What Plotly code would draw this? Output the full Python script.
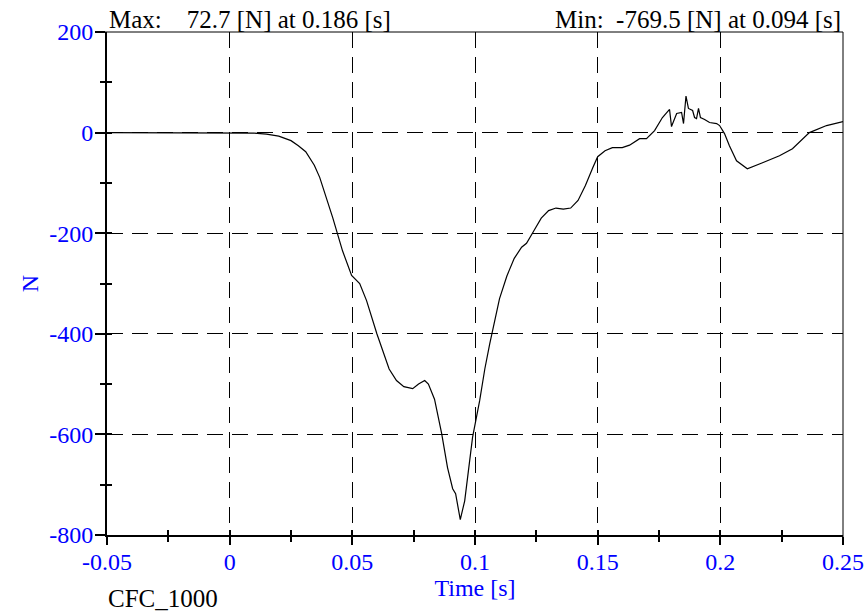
import plotly.graph_objects as go

time_s = [-0.05, 0.0, 0.005, 0.01, 0.015, 0.02, 0.025, 0.028, 0.031, 0.0345, 0.0367,
          0.042, 0.046, 0.0497, 0.053, 0.0558, 0.060, 0.0623, 0.065, 0.068, 0.071,
          0.0746, 0.077, 0.0795, 0.081, 0.0835, 0.0864, 0.0888, 0.0909, 0.0921,
          0.094, 0.0958, 0.099, 0.1019, 0.104, 0.106, 0.108, 0.110, 0.113, 0.116,
          0.119, 0.121, 0.124, 0.127, 0.130, 0.133, 0.136, 0.139, 0.142, 0.145,
          0.148, 0.150, 0.153, 0.156, 0.160, 0.163, 0.1671, 0.1699, 0.1732, 0.1764,
          0.1793, 0.1801, 0.1822, 0.1842, 0.1850, 0.186, 0.1870, 0.1887, 0.1895,
          0.1903, 0.1911, 0.1919, 0.1936, 0.1956, 0.1985, 0.1997, 0.2017, 0.2037,
          0.2066, 0.211, 0.2172, 0.2241, 0.2294, 0.2363, 0.2433, 0.25]
force_n = [0, 0, 0, -1, -3, -7, -16, -26, -38, -65, -89,
           -169, -235, -284, -300, -334, -400, -433, -470, -493, -505,
           -509, -500, -493, -500, -530, -598, -666, -708, -718,
           -769.5, -732, -606, -533, -470, -420, -375, -330, -285, -250,
           -228, -220, -195, -170, -155, -150, -152, -150, -135, -105,
           -70, -48, -36, -30, -30, -25, -12, -12, 4, 30,
           46, 12, 38, 40, 18, 72.7, 48, 44, 30,
           28, 48, 30, 26, 20, 18, 14, -2, -26,
           -56, -72, -60, -46, -32, 0, 14, 22]

x_ticks = [-0.05, 0, 0.05, 0.1, 0.15, 0.2, 0.25]
x_tick_labels = ["-0.05", "0", "0.05", "0.1", "0.15", "0.2", "0.25"]
y_ticks = [-800, -600, -400, -200, 0, 200]
y_tick_labels = ["-800", "-600", "-400", "-200", "0", "200"]

max_text = "Max:\u00a0\u00a0\u00a0\u00a072.7 [N] at 0.186 [s]"
min_text = "Min:\u00a0\u00a0-769.5 [N] at 0.094 [s]"
x_title = "Time [s]"
y_title = "N"
filter_text = "CFC_1000"

FONT = "Liberation Serif, Times New Roman, serif"
BLUE = "#0000ff"
FS = 24
X_RANGE = [-0.05, 0.25]
Y_RANGE = [-800, 200]

fig = go.Figure()
fig.add_trace(go.Scatter(x=time_s, y=force_n, mode="lines",
                         line=dict(color="black", width=1.2), showlegend=False,
                         hoverinfo="skip"))

fig.update_layout(
    width=867, height=613,
    margin=dict(l=107, r=24, t=32, b=78, autoexpand=False),
    paper_bgcolor="white", plot_bgcolor="white",
    font=dict(family=FONT, size=FS, color="black"),
    xaxis=dict(range=X_RANGE, tickvals=x_ticks, ticktext=x_tick_labels,
               automargin=False, ticklabelstandoff=-4, ticklabeloverflow="allow",
               ticks="outside", ticklen=8, tickwidth=1.5, tickcolor="black",
               minor=dict(dtick=0.025, tick0=0, ticks="outside", ticklen=5,
                          tickcolor="black", tickwidth=1.5, showgrid=False),
               showline=True, linewidth=2, linecolor="black",
               showgrid=True, gridcolor="black", gridwidth=1, griddash="16px,9px",
               zeroline=False, tickfont=dict(color=BLUE, size=FS, family=FONT),
               title=dict(text=x_title, font=dict(color=BLUE, size=FS, family=FONT),
                          standoff=4)),
    yaxis=dict(range=Y_RANGE, tickvals=y_ticks, ticktext=y_tick_labels,
               automargin=False, ticklabelstandoff=-3,
               ticks="outside", ticklen=10, tickwidth=1.5, tickcolor="black",
               minor=dict(dtick=100, tick0=0, ticks="outside", ticklen=5,
                          tickcolor="black", tickwidth=1.5, showgrid=False),
               showline=True, linewidth=2, linecolor="black",
               showgrid=True, gridcolor="black", gridwidth=1, griddash="16px,9px",
               zeroline=False, tickfont=dict(color=BLUE, size=FS, family=FONT),
               title=dict(text=y_title, font=dict(color=BLUE, size=FS, family=FONT),
                          standoff=4)),
    xaxis2=dict(range=X_RANGE, overlaying="x", anchor="y", side="bottom",
                automargin=False,
                tickvals=x_ticks, ticks="inside", ticklen=5, tickwidth=1.5,
                tickcolor="black", showticklabels=False, showgrid=False,
                showline=False, zeroline=False,
                minor=dict(dtick=0.025, tick0=0, ticks="inside", ticklen=5,
                           tickcolor="black", tickwidth=1.5)),
    yaxis2=dict(range=Y_RANGE, overlaying="y", anchor="x", side="left",
                automargin=False,
                tickvals=y_ticks, ticks="inside", ticklen=0, tickwidth=1.5,
                tickcolor="black", showticklabels=False, showgrid=False,
                showline=False, zeroline=False,
                minor=dict(dtick=100, tick0=0, ticks="inside", ticklen=5,
                           tickcolor="black", tickwidth=1.5)),
)

# invisible trace so the overlay axes are drawn
fig.add_trace(go.Scatter(x=[X_RANGE[0]], y=[Y_RANGE[0]], xaxis="x2", yaxis="y2",
                         mode="markers", marker=dict(opacity=0), showlegend=False,
                         hoverinfo="skip"))

# top and right frame lines
fig.add_shape(type="line", xref="paper", yref="paper", x0=-10 / 736, x1=1, y0=1, y1=1,
              line=dict(color="black", width=1))
fig.add_shape(type="line", xref="paper", yref="paper", x0=1, x1=1, y0=-8 / 503, y1=1,
              line=dict(color="black", width=1))

fig.add_annotation(text=max_text, xref="paper", yref="paper", x=0, y=1,
                   xanchor="left", yanchor="bottom", showarrow=False, yshift=-3,
                   font=dict(family=FONT, size=25, color="black"))
fig.add_annotation(text=min_text, xref="paper", yref="paper", x=1, y=1,
                   xanchor="right", yanchor="bottom", showarrow=False, yshift=-3,
                   font=dict(family=FONT, size=25, color="black"))
fig.add_annotation(text=filter_text, xref="paper", yref="paper", x=0.076, y=0,
                   xanchor="center", yanchor="top", showarrow=False, yshift=-48,
                   font=dict(family=FONT, size=25, color="black"))

fig.write_html("out.html", config={"displayModeBar": False},
               post_script="document.body.style.margin='0';document.body.style.overflow='hidden';")
